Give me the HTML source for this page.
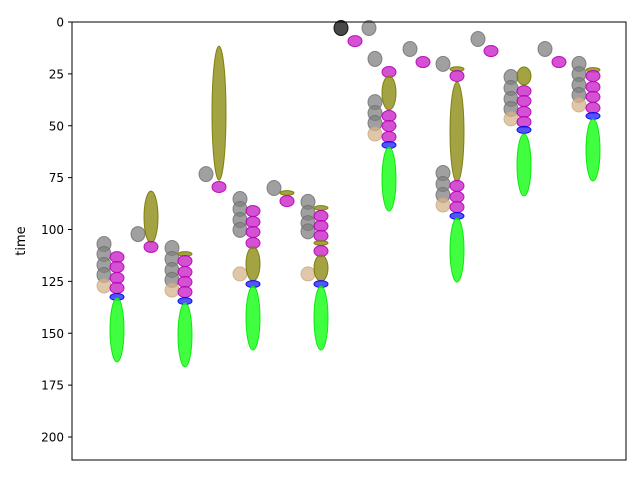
<!DOCTYPE html>
<html><head><meta charset="utf-8"><style>
body{margin:0;background:#fff;}
svg{display:block;font-family:"DejaVu Sans","Liberation Sans",sans-serif;}
</style></head><body>
<svg id="c" width="640" height="480">
<rect x="72" y="22" width="554" height="438" fill="#fff"/>
<g id="marks"></g>
<g id="axes"></g>
<text x="25" y="241" font-size="13" text-anchor="middle" transform="rotate(-90 25 241)">time</text>
</svg>
<script>
const xs=[
32,32,32,32,32,45,45,45,45,45,45,
66,79,79,
100,100,100,100,100,113,113,113,113,113,113,113,
134,147,147,
168,168,168,168,168,181,181,181,181,181,181,181,
202,215,215,
236,236,236,236,236,249,249,249,249,249,249,249,249,249,
269,283,297,
303,317,317,303,303,303,303,317,317,317,317,317,
338,351,
371,385,385,385,371,371,371,371,385,385,385,385,385,
406,419,
439,439,439,439,439,452,452,452,452,452,452,452,
473,487,
507,507,507,507,507,521,521,521,521,521,521,521];
const ts=[
107,111.8,117.1,121.9,127.2,113.3,118.1,123.4,128.2,132.5,148.4,
102.2,94,108.4,
108.9,114.2,119.5,124.3,129.2,111.8,115.2,120.5,125.3,130.1,134.5,150.8,
73.3,43.9,79.5,
85.3,90.1,95.4,100.2,121.4,91.1,96.4,101.2,106.5,116.6,126.3,142.7,
80,82.4,86.3,
86.7,92,96.9,100.9,121.4,89.6,93.5,98.3,103.1,106.5,110.4,118.6,126.3,142.7,
2.9,9.2,2.9,
17.8,24.1,34.2,38.6,43.9,48.7,54,45.3,50.1,55.4,59.3,75.7,
13,19.3,
20.2,22.7,26,53,72.8,78.1,83.4,88.2,79,84.3,89.2,93.5,109.9,
8.2,14,
26.5,31.8,37.1,41.9,46.7,26,33.3,38.1,43.4,48.2,52,68.9,
13,19.3,
20.2,25.1,30.4,35.2,40,23.1,26,31.3,36.1,41.4,45.3,61.7];
const kinds=[
"g","g","g","g","t","m","m","m","m","b","G",
"g","o","m",
"g","g","g","g","t","c","m","m","m","m","b","G",
"g","o","m",
"g","g","g","g","t","m","m","m","m","o","b","G",
"g","c","m",
"g","g","g","g","t","c","m","m","m","c","m","o","b","G",
"d","m","g",
"g","m","o","g","g","g","t","m","m","m","b","G",
"g","m",
"g","c","m","o","g","g","g","t","m","m","m","b","G",
"g","m",
"g","g","g","g","t","o","m","m","m","m","b","G",
"g","m",
"g","g","g","g","t","c","m","m","m","m","b","G"];
const spans=[
0,0,0,0,0,0,0,0,0,0,15.4,
0,12.5,0,
0,0,0,0,0,0,0,0,0,0,0,15.4,
0,32.3,0,
0,0,0,0,0,0,0,0,0,8.2,0,15.4,
0,0,0,
0,0,0,0,0,0,0,0,0,0,0,6.3,0,15.4,
0,0,0,
0,0,8.2,0,0,0,0,0,0,0,0,15.4,
0,0,
0,0,0,24.1,0,0,0,0,0,0,0,0,15.4,
0,0,
0,0,0,0,0,4.3,0,0,0,0,0,14.9,
0,0,
0,0,0,0,0,0,0,0,0,0,0,14.9];
</script>
<script>
const X0=72,Y0=22,PY=2.075;
const xp=v=>X0+v, yp=v=>Y0+v*PY;
const style={g:["rgba(128,128,128,0.75)","rgba(110,110,110,0.8)",7,7.5],
t:["rgba(215,180,140,0.75)","rgba(200,170,130,0.8)",7,7],
m:["rgba(205,50,205,0.85)","rgba(180,0,180,0.9)",7,5.5],
b:["rgba(40,40,255,0.8)","rgba(0,0,230,0.9)",7,3.5],
c:["rgba(140,140,20,0.8)","rgba(120,120,0,0.9)",7,2.3],
o:["rgba(140,140,20,0.8)","rgba(120,120,0,0.9)",7,17],
G:["rgba(30,255,30,0.85)","rgba(0,230,0,0.9)",7,32],
d:["rgba(40,40,40,0.85)","#111",7,7.5]};
const ns="http://www.w3.org/2000/svg";
const marks=document.getElementById("marks");
for(let i=0;i<xs.length;i++){
  const k=kinds[i];const s=style[k]||style.g;
  const ry=spans[i]>0?spans[i]*PY:s[3];
  const e=document.createElementNS(ns,"ellipse");
  e.setAttribute("cx",xp(xs[i]));e.setAttribute("cy",yp(ts[i]));
  e.setAttribute("rx",s[2]);e.setAttribute("ry",ry);
  e.setAttribute("fill",s[0]);e.setAttribute("stroke",s[1]);e.setAttribute("stroke-width","1");
  
  
  marks.appendChild(e);
}
const yTicks=[0,25,50,75,100,125,150,175,200];
const axes=document.getElementById("axes");
const fr=document.createElementNS(ns,"rect");
fr.setAttribute("x",72);fr.setAttribute("y",22);fr.setAttribute("width",554);fr.setAttribute("height",438);
fr.setAttribute("fill","none");fr.setAttribute("stroke","#000");fr.setAttribute("stroke-width","1");


axes.appendChild(fr);
yTicks.forEach(v=>{
  const y=yp(v);
  const l=document.createElementNS(ns,"line");
  l.setAttribute("x1",68);l.setAttribute("x2",72);l.setAttribute("y1",y);l.setAttribute("y2",y);l.setAttribute("stroke","#000");
  
  
  axes.appendChild(l);
  const t=document.createElementNS(ns,"text");
  t.setAttribute("x",64);t.setAttribute("y",y+4.5);t.setAttribute("text-anchor","end");t.setAttribute("font-size","12");
  t.textContent=v;
  
  
  axes.appendChild(t);
});
</script>
</body></html>
